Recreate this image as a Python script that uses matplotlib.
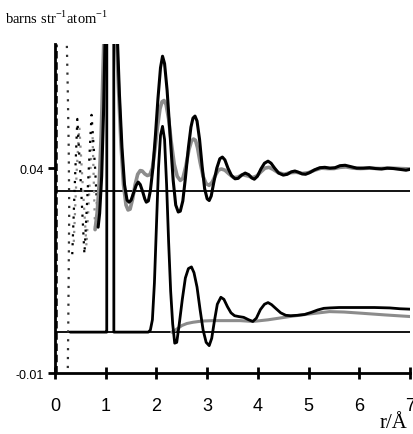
import matplotlib
matplotlib.use("Agg")
import matplotlib.pyplot as plt

# ---------------- data ----------------
# upper set (offset ~0.0344), solid black
ub_r = [0.85, 0.88, 0.92, 0.96, 1.00, 1.08, 1.16, 1.22, 1.27, 1.32, 1.37, 1.42, 1.46, 1.50, 1.55,
        1.60, 1.64, 1.68, 1.73, 1.77, 1.80, 1.84, 1.88, 1.93, 1.98, 2.03, 2.08, 2.12, 2.16, 2.21,
        2.27, 2.33, 2.38, 2.43, 2.47, 2.52, 2.57, 2.63, 2.68, 2.72, 2.76, 2.80, 2.85, 2.90, 2.95,
        3.00, 3.04, 3.08, 3.13, 3.19, 3.25, 3.30, 3.35, 3.41, 3.48, 3.55, 3.61, 3.68, 3.75, 3.82,
        3.88, 3.93, 3.99, 4.06, 4.13, 4.20, 4.26, 4.33, 4.41, 4.50, 4.58, 4.66, 4.73, 4.80, 4.87,
        4.94, 5.02, 5.12, 5.22, 5.32, 5.42, 5.52, 5.62, 5.72, 5.82, 5.95, 6.08, 6.20, 6.32, 6.44,
        6.55, 6.68, 6.80, 6.92, 7.00]
ub_v = [0.0256, 0.029, 0.038, 0.055, 0.080, 0.110, 0.095, 0.075, 0.058, 0.045, 0.036, 0.0322,
        0.0317, 0.0322, 0.0340, 0.0358, 0.0366, 0.0360, 0.0342, 0.0325, 0.0317, 0.0320, 0.0345,
        0.040, 0.048, 0.057, 0.0645, 0.0673, 0.0655, 0.059, 0.048, 0.037, 0.031, 0.0293, 0.0295,
        0.0320, 0.0375, 0.0450, 0.0500, 0.0522, 0.0527, 0.0515, 0.0470, 0.0405, 0.0350, 0.0325,
        0.0321, 0.0332, 0.0365, 0.0400, 0.0423, 0.0427, 0.0420, 0.0400, 0.0382, 0.0374, 0.0375,
        0.0383, 0.0388, 0.0384, 0.0376, 0.0373, 0.0380, 0.0398, 0.0412, 0.0417, 0.0412, 0.0400,
        0.0388, 0.0383, 0.0385, 0.0391, 0.0393, 0.0390, 0.0386, 0.0385, 0.0389, 0.0396, 0.0401,
        0.0402, 0.0400, 0.0401, 0.0406, 0.0407, 0.0404, 0.0400, 0.0400, 0.0401, 0.0399, 0.0398,
        0.0400, 0.0399, 0.0397, 0.0395, 0.0397]

# upper set, solid grey
ug_r = [0.79, 0.83, 0.87, 0.91, 0.96, 1.05, 1.14, 1.20, 1.25, 1.30, 1.35, 1.40, 1.44, 1.48, 1.53,
        1.58, 1.63, 1.68, 1.72, 1.77, 1.82, 1.87, 1.92, 1.97, 2.02, 2.07, 2.11, 2.15, 2.19, 2.24,
        2.29, 2.35, 2.41, 2.47, 2.52, 2.58, 2.64, 2.69, 2.73, 2.77, 2.81, 2.86, 2.92, 2.98, 3.04,
        3.10, 3.16, 3.22, 3.28, 3.35, 3.43, 3.52, 3.60, 3.70, 3.80, 3.90, 3.98, 4.06, 4.14, 4.22,
        4.30, 4.40, 4.52, 4.64, 4.76, 4.88, 5.00, 5.12, 5.25, 5.38, 5.50, 5.62, 5.74, 5.88, 6.02,
        6.20, 6.40, 6.60, 6.80, 7.00]
ug_v = [0.025, 0.029, 0.036, 0.048, 0.070, 0.100, 0.090, 0.075, 0.060, 0.046, 0.036, 0.031,
        0.0298, 0.0300, 0.0325, 0.0360, 0.0385, 0.0394, 0.0393, 0.0386, 0.0382, 0.0384, 0.0400,
        0.0445, 0.0500, 0.0545, 0.0562, 0.0565, 0.0555, 0.0520, 0.0465, 0.0410, 0.0380, 0.0370,
        0.0375, 0.0405, 0.0445, 0.0466, 0.0471, 0.0468, 0.0450, 0.0415, 0.0380, 0.0362, 0.0358,
        0.0366, 0.0382, 0.0395, 0.0398, 0.0395, 0.0386, 0.0377, 0.0378, 0.0384, 0.0381, 0.0377,
        0.0381, 0.0391, 0.0400, 0.0402, 0.0397, 0.0389, 0.0385, 0.0389, 0.0390, 0.0387, 0.0389,
        0.0395, 0.0400, 0.0399, 0.0399, 0.0402, 0.0403, 0.0400, 0.0399, 0.0400, 0.0399, 0.0400,
        0.0399, 0.0398]

# upper set, low-r dotted parts
ubd_r = [0.34, 0.39, 0.44, 0.51, 0.58, 0.65, 0.72, 0.79, 0.85]
ubd_v = [0.019, 0.036, 0.052, 0.036, 0.019, 0.036, 0.053, 0.040, 0.0256]
ugd_r = [0.37, 0.43, 0.48, 0.55, 0.62, 0.69, 0.74, 0.79]
ugd_v = [0.022, 0.040, 0.050, 0.035, 0.021, 0.038, 0.048, 0.025]

# steep dotted curve near r = 0.25
edge_r = [0.23, 0.25, 0.27, 0.28, 0.27, 0.26, 0.25]
edge_v = [0.072, 0.060, 0.045, 0.030, 0.015, 0.000, -0.011]

# lower set (offset 0), solid black
lb_r = [0.30, 1.00, 1.02, 1.025, 1.155, 1.16, 1.84, 1.88, 1.92, 1.96, 2.00, 2.04, 2.08, 2.12,
        2.16, 2.20, 2.24, 2.28, 2.32, 2.36, 2.40, 2.45, 2.51, 2.57, 2.63, 2.69, 2.74, 2.80, 2.86,
        2.92, 2.98, 3.04, 3.09, 3.14, 3.20, 3.27, 3.33, 3.40, 3.47, 3.54, 3.62, 3.72, 3.82, 3.90,
        3.97, 4.05, 4.13, 4.20, 4.27, 4.35, 4.45, 4.55, 4.65, 4.78, 4.92, 5.05, 5.18, 5.30, 5.42,
        5.60, 5.80, 6.00, 6.30, 6.60, 6.80, 7.00]
lb_v = [0.0, 0.0, 0.0, 0.25, 0.25, 0.0, 0.0, 0.0005, 0.003, 0.012, 0.026, 0.040, 0.048, 0.0502,
        0.047, 0.036, 0.022, 0.010, 0.002, -0.0027, -0.0025, 0.002, 0.008, 0.0132, 0.0155, 0.0159,
        0.0145, 0.0110, 0.0055, 0.0005, -0.0025, -0.0033, -0.0015, 0.0025, 0.0068, 0.0085, 0.0080,
        0.0062, 0.0047, 0.0040, 0.0038, 0.0036, 0.0030, 0.0026, 0.0034, 0.0055, 0.0068, 0.0072,
        0.0067, 0.0058, 0.0047, 0.0041, 0.0040, 0.0041, 0.0043, 0.0048, 0.0054, 0.0058, 0.0059,
        0.0060, 0.0060, 0.0060, 0.0060, 0.0059, 0.0057, 0.0056]

# lower set, solid grey
lg_r = [2.30, 2.35, 2.42, 2.50, 2.60, 2.72, 2.90, 3.10, 3.40, 3.65, 3.90, 4.20, 4.63, 5.00,
        5.41, 5.70, 6.05, 6.50, 7.00]
lg_v = [0.0, 0.0003, 0.0009, 0.0016, 0.0021, 0.0024, 0.0027, 0.0028, 0.0028, 0.0028, 0.0026,
        0.0030, 0.0038, 0.0044, 0.0050, 0.0049, 0.0046, 0.0042, 0.0038]

baselines = [0.0, 0.0344]
x_ticks = [0, 1, 2, 3, 4, 5, 6, 7]
y_ticks = [-0.01, 0.04]
y_ticklabels = ["-0.01", "0.04"]

# ---------------- plot ----------------
plt.rcParams['font.family'] = ['Liberation Sans', 'DejaVu Sans']
fig = plt.figure(figsize=(4.14, 4.35), dpi=100)
ax = fig.add_axes([0.1329, 0.1400, 0.8575, 0.7567])

grey = '#8c8c8c'
for b in baselines:
    ax.axhline(b, color='black', lw=1.3, zorder=2)

kw = dict(solid_joinstyle='round', solid_capstyle='round')
ax.plot([0.015, 0.015], [-0.01, 0.0703], color='black', lw=1.8, ls=(0, (3, 1.5)), zorder=3)
ax.plot(edge_r, edge_v, color='#303030', lw=1.6, ls=(0, (1, 3)), zorder=3)
ax.plot(ugd_r, ugd_v, color=grey, lw=1.6, ls=(0, (1, 3)), zorder=3)
ax.plot(ubd_r, ubd_v, color='black', lw=1.6, ls=(0, (1, 3)), zorder=3)

ax.plot(lg_r, lg_v, color=grey, lw=2.2, zorder=4, **kw)
ax.plot(ug_r, ug_v, color=grey, lw=2.6, zorder=4, **kw)
ax.plot(ub_r, ub_v, color='black', lw=2.2, zorder=5, **kw)
ax.plot(lb_r, lb_v, color='black', lw=2.0, zorder=5, **kw)

ax.set_xlim(0, 7)
ax.set_ylim(-0.01, 0.0703)
for s in ['top', 'right']:
    ax.spines[s].set_visible(False)
for s in ['left', 'bottom']:
    ax.spines[s].set_linewidth(2.0)
ax.set_xticks(x_ticks)
ax.set_xticklabels([str(t) for t in x_ticks])
ax.set_yticks(y_ticks)
ax.set_yticklabels(y_ticklabels)
ax.tick_params(axis='x', direction='inout', length=9, width=2, labelsize=13, pad=13)
ax.tick_params(axis='y', direction='out', length=5, width=2, labelsize=9, pad=3)

fig.text(0.012, 0.958, r'barns str$^{\mathregular{-1}}$atom$^{\mathregular{-1}}$',
         family='Liberation Serif', fontsize=10.5, ha='left', va='center')
fig.text(0.985, 0.004, 'r/Å', family='Liberation Serif', fontsize=15, ha='right', va='bottom')

fig.savefig('out.png', dpi=100)
